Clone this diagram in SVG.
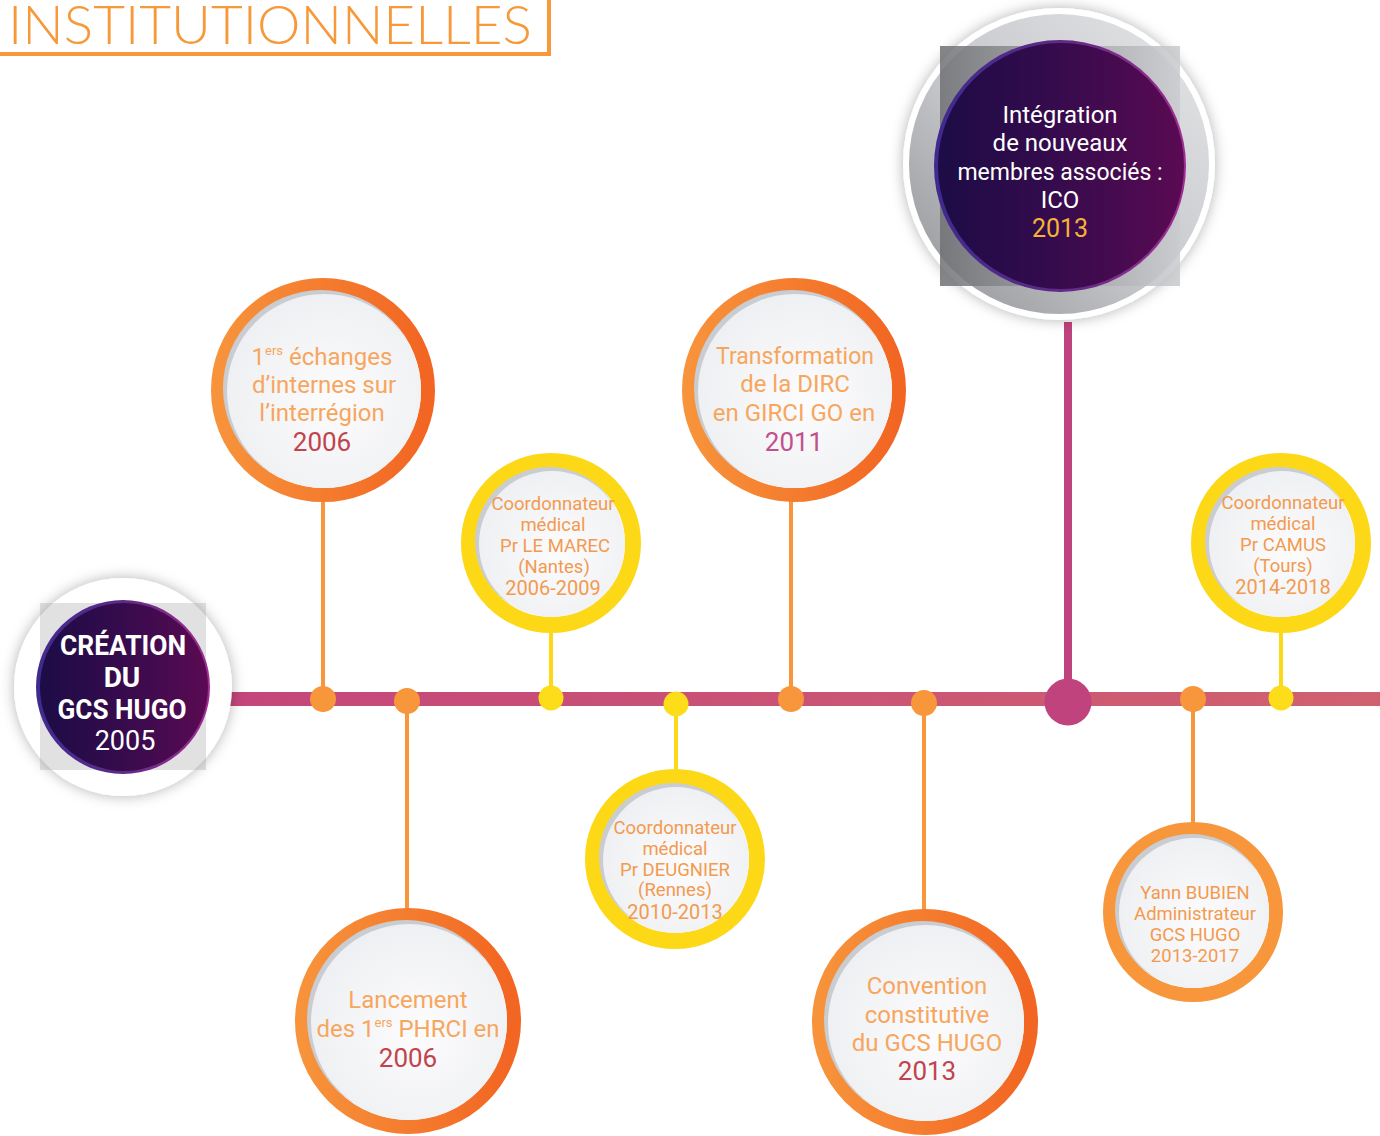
<svg xmlns="http://www.w3.org/2000/svg" width="1380" height="1136" viewBox="0 0 1380 1136">
<defs>
<linearGradient id="gOrange" x1="0" y1="0" x2="1" y2="0"><stop offset="0" stop-color="#f7933b"/><stop offset="1" stop-color="#f26522"/></linearGradient>
<linearGradient id="gBar" x1="0" y1="0" x2="1" y2="0"><stop offset="0" stop-color="#c4467b"/><stop offset="1" stop-color="#d0616f"/></linearGradient>
<radialGradient id="gDisc" cx="0.55" cy="0.55" r="0.6"><stop offset="0" stop-color="#fcfcfd"/><stop offset="1" stop-color="#eeeff2"/></radialGradient>
<linearGradient id="gRim" x1="0" y1="0" x2="1" y2="0"><stop offset="0" stop-color="#3f2a8f"/><stop offset="0.5" stop-color="#5e2a86"/><stop offset="1" stop-color="#a12d93"/></linearGradient>
<linearGradient id="gPurple" x1="0" y1="0" x2="1" y2="0"><stop offset="0" stop-color="#1c0c46"/><stop offset="0.5" stop-color="#370b4d"/><stop offset="1" stop-color="#5a0a52"/></linearGradient>
<linearGradient id="gHalo" x1="1" y1="0" x2="0" y2="1"><stop offset="0" stop-color="#e6e7e9"/><stop offset="0.55" stop-color="#c6c7ca"/><stop offset="1" stop-color="#8e8f92"/></linearGradient>
<linearGradient id="gSq" x1="0" y1="0" x2="1" y2="0"><stop offset="0" stop-color="#6f7073"/><stop offset="1" stop-color="#c9cbce"/></linearGradient>
<filter id="shadow" x="-30%" y="-30%" width="160%" height="160%"><feDropShadow dx="0" dy="0" stdDeviation="7" flood-color="#000" flood-opacity="0.3"/></filter>
<style>
.t{font-family:Roboto,"Liberation Sans",sans-serif;text-anchor:middle}
.big{font-size:24px;fill:#f7a65d}
.sm{font-size:18.5px;fill:#f39a4f}
.smy{font-size:20px}
.yr{fill:#c0444c;font-size:26px}
.yr2{fill:#c2508a;font-size:26px}
.w{fill:#ffffff}
.ring-o{fill:none;stroke:url(#gOrange);stroke-width:14}
.ring-y{fill:none;stroke:#fdd817;stroke-width:16}
.ring-b{fill:none;stroke:#f7963a;stroke-width:14}
.inset{fill:#c9ccd1}
.disc{fill:url(#gDisc)}
.lo{stroke:#f7963b;stroke-width:4}
.ly{stroke:#fdd817;stroke-width:4}
.dot-o{fill:#f7963b}
.dot-y{fill:#fddc1a}
</style>
</defs>
<rect width="1380" height="1136" fill="#ffffff"/>

<g id="title">
<text x="270" y="44" font-family="Lato,'Open Sans',sans-serif" font-weight="300" font-size="54" fill="#f7993a" text-anchor="middle" textLength="524" lengthAdjust="spacingAndGlyphs">INSTITUTIONNELLES</text>
<polyline points="0,54 549,54 549,0" fill="none" stroke="#f7993a" stroke-width="4"/>
</g>

<g id="connectors">
<rect x="222" y="692" width="1158" height="14" fill="url(#gBar)"/>
<line class="lo" x1="323" y1="500" x2="323" y2="699"/>
<line class="lo" x1="407" y1="701" x2="407" y2="912"/>
<line class="ly" x1="551" y1="628" x2="551" y2="698"/>
<line class="ly" x1="676" y1="704" x2="676" y2="772"/>
<line class="lo" x1="791" y1="500" x2="791" y2="699"/>
<line class="lo" x1="924" y1="703" x2="924" y2="912"/>
<line x1="1068" y1="322" x2="1068" y2="702" stroke="#c0437e" stroke-width="8"/>
<line class="lo" x1="1193" y1="699" x2="1193" y2="826"/>
<line class="ly" x1="1281" y1="628" x2="1281" y2="698"/>
<circle class="dot-o" cx="323" cy="699" r="13"/>
<circle class="dot-o" cx="407" cy="701" r="13"/>
<circle class="dot-y" cx="551" cy="698" r="12.5"/>
<circle class="dot-y" cx="676" cy="704" r="12.5"/>
<circle class="dot-o" cx="791" cy="699" r="13"/>
<circle class="dot-o" cx="924" cy="703" r="13"/>
<circle cx="1068" cy="702" r="23.5" fill="#c0437e"/>
<circle class="dot-o" cx="1193" cy="699" r="13"/>
<circle class="dot-y" cx="1281" cy="698" r="12.5"/>
</g>

<g id="n2005">
<circle cx="123" cy="687" r="109" fill="#ffffff" filter="url(#shadow)"/>
<rect x="40" y="603" width="166" height="167" fill="#9d9da0" opacity="0.3"/>
<circle cx="123" cy="687" r="87" fill="url(#gRim)"/>
<circle cx="124" cy="687" r="84" fill="url(#gPurple)"/>
<text class="t w" x="123" y="655" font-size="28" font-weight="bold" textLength="126" lengthAdjust="spacingAndGlyphs">CRÉATION</text>
<text class="t w" x="122" y="687" font-size="28" font-weight="bold">DU</text>
<text class="t w" x="122" y="719" font-size="28" font-weight="bold" textLength="129" lengthAdjust="spacingAndGlyphs">GCS HUGO</text>
<text class="t w" x="125" y="750" font-size="27">2005</text>
</g>

<g id="n2006a">
<circle class="ring-o" cx="323" cy="390" r="105"/>
<circle class="inset" cx="321" cy="388" r="98"/>
<circle class="disc" cx="324" cy="391" r="97"/>
<text class="t big" x="322" y="365">1<tspan font-size="13" dy="-10">ers</tspan><tspan dy="10"> échanges</tspan></text>
<text class="t big" x="324" y="393">d’internes sur</text>
<text class="t big" x="322" y="421">l’interrégion</text>
<text class="t big yr" x="322" y="451">2006</text>
</g>

<g id="n2006b">
<circle class="ring-o" cx="408" cy="1021" r="106"/>
<circle class="inset" cx="406" cy="1019" r="99"/>
<circle class="disc" cx="409" cy="1022" r="98"/>
<text class="t big" x="408" y="1008">Lancement</text>
<text class="t big" x="408" y="1037">des 1<tspan font-size="13" dy="-10">ers</tspan><tspan dy="10"> PHRCI en</tspan></text>
<text class="t big yr" x="408" y="1067">2006</text>
</g>

<g id="nLeMarec">
<circle class="ring-y" cx="551" cy="543" r="82"/>
<circle class="inset" cx="549" cy="541" r="74"/>
<circle class="disc" cx="552" cy="544" r="73"/>
<text class="t sm" x="553" y="510">Coordonnateur</text>
<text class="t sm" x="553" y="531">médical</text>
<text class="t sm" x="555" y="552">Pr LE MAREC</text>
<text class="t sm" x="554" y="573">(Nantes)</text>
<text class="t sm smy" x="553" y="595">2006-2009</text>
</g>

<g id="nDeugnier">
<circle class="ring-y" cx="675" cy="859" r="82"/>
<circle class="inset" cx="673" cy="857" r="74"/>
<circle class="disc" cx="676" cy="860" r="73"/>
<text class="t sm" x="675" y="834">Coordonnateur</text>
<text class="t sm" x="675" y="855">médical</text>
<text class="t sm" x="675" y="876">Pr DEUGNIER</text>
<text class="t sm" x="675" y="896">(Rennes)</text>
<text class="t sm smy" x="675" y="919">2010-2013</text>
</g>

<g id="n2011">
<circle class="ring-o" cx="794" cy="390" r="105"/>
<circle class="inset" cx="792" cy="388" r="98"/>
<circle class="disc" cx="795" cy="391" r="97"/>
<text class="t big" x="795" y="364" textLength="158" lengthAdjust="spacingAndGlyphs">Transformation</text>
<text class="t big" x="795" y="392">de la DIRC</text>
<text class="t big" x="794" y="421">en GIRCI GO en</text>
<text class="t big yr2" x="794" y="451">2011</text>
</g>

<g id="nConvention">
<circle class="ring-o" cx="925" cy="1022" r="106"/>
<circle class="inset" cx="923" cy="1020" r="99"/>
<circle class="disc" cx="926" cy="1023" r="98"/>
<text class="t big" x="927" y="994">Convention</text>
<text class="t big" x="927" y="1023">constitutive</text>
<text class="t big" x="927" y="1051">du GCS HUGO</text>
<text class="t big yr" x="927" y="1080">2013</text>
</g>

<g id="nICO">
<circle cx="1059" cy="164" r="153" fill="url(#gHalo)" stroke="#ffffff" stroke-width="6" filter="url(#shadow)"/>
<rect x="940" y="46" width="240" height="240" fill="url(#gSq)" opacity="0.85"/>
<circle cx="1060" cy="166" r="126" fill="url(#gRim)"/>
<circle cx="1061" cy="166" r="123" fill="url(#gPurple)"/>
<text class="t w" x="1060" y="123" font-size="24">Intégration</text>
<text class="t w" x="1060" y="151" font-size="24">de nouveaux</text>
<text class="t w" x="1060" y="180" font-size="23">membres associés :</text>
<text class="t w" x="1060" y="208" font-size="24">ICO</text>
<text class="t" x="1060" y="237" font-size="25" fill="#f5b335">2013</text>
</g>

<g id="nBubien">
<circle class="ring-b" cx="1193" cy="912" r="83"/>
<circle class="inset" cx="1191" cy="910" r="76"/>
<circle class="disc" cx="1194" cy="913" r="75"/>
<text class="t sm" x="1195" y="899" font-size="19.5">Yann BUBIEN</text>
<text class="t sm" x="1195" y="920">Administrateur</text>
<text class="t sm" x="1195" y="941">GCS HUGO</text>
<text class="t sm" x="1195" y="962" font-size="21">2013-2017</text>
</g>

<g id="nCamus">
<circle class="ring-y" cx="1281" cy="543" r="82"/>
<circle class="inset" cx="1279" cy="541" r="74"/>
<circle class="disc" cx="1282" cy="544" r="73"/>
<text class="t sm" x="1283" y="509">Coordonnateur</text>
<text class="t sm" x="1283" y="530">médical</text>
<text class="t sm" x="1283" y="551">Pr CAMUS</text>
<text class="t sm" x="1283" y="572">(Tours)</text>
<text class="t sm smy" x="1283" y="594">2014-2018</text>
</g>
</svg>
